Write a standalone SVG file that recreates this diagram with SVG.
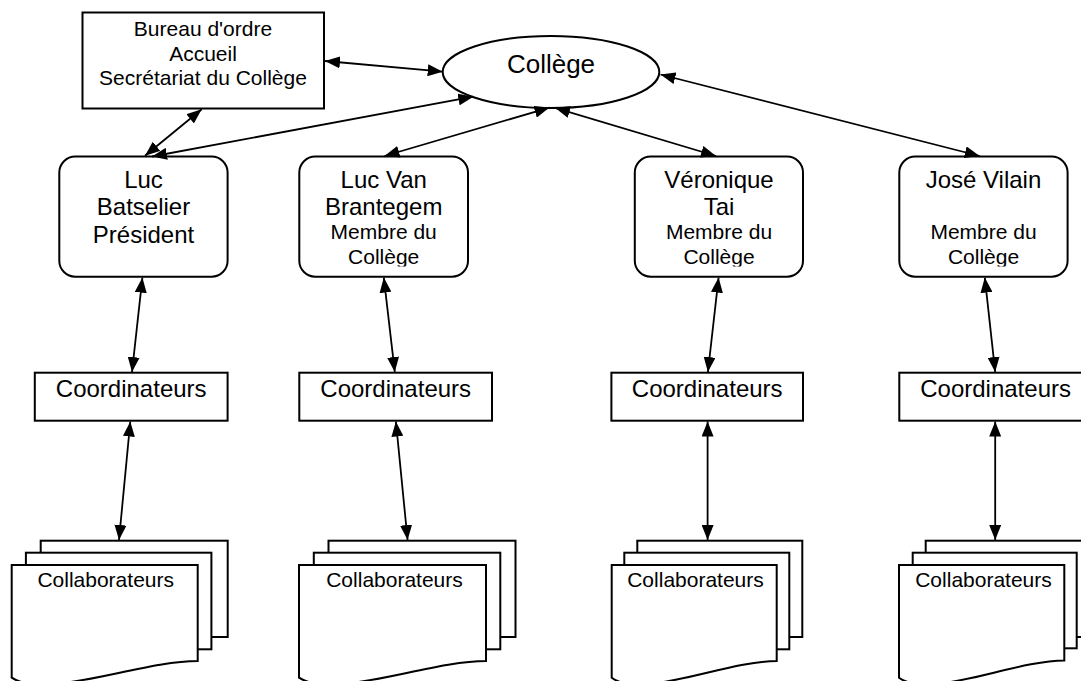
<svg xmlns="http://www.w3.org/2000/svg" width="1081" height="681" viewBox="0 0 1081 681">
<style>
.box{fill:#fff;stroke:#000;stroke-width:2}
.conn{stroke:#000;stroke-width:1.8;fill:none;marker-start:url(#ah);marker-end:url(#ah)}
text{font-family:"Liberation Sans",Arial,sans-serif;fill:#000;text-anchor:middle}
.t26{font-size:26px}.t24{font-size:24px}.t21{font-size:21px}
</style>
<defs>
<marker id="ah" viewBox="0 0 15 12" refX="15" refY="6" markerWidth="15" markerHeight="12" markerUnits="userSpaceOnUse" orient="auto-start-reverse">
<path d="M0,0 L15,6 L0,12 Z" fill="#000"/>
</marker>
<clipPath id="clipTxt"><rect x="0" y="150" width="1081" height="116.5"/></clipPath>
</defs>
<rect width="1081" height="681" fill="#fff"/>

<g id="bureau">
<rect class="box" x="82.5" y="12.5" width="241.5" height="96"/>
<text class="t21" x="203" y="36">Bureau d'ordre</text>
<text class="t21" x="203" y="60.5">Accueil</text>
<text class="t21" x="203" y="85">Secrétariat du Collège</text>
</g>

<g id="college">
<ellipse class="box" cx="551" cy="72" rx="108.3" ry="36"/>
<text class="t26" x="551" y="73.3">Collège</text>
</g>

<g id="batselier">
<rect class="box" x="59.3" y="156.5" width="168.3" height="120.2" rx="16"/>
<text class="t24" x="143.5" y="188">Luc</text>
<text class="t24" x="143.5" y="215">Batselier</text>
<text class="t24" x="143.5" y="242.7">Président</text>
</g>

<g id="vanbrantegem">
<rect class="box" x="299.3" y="156.5" width="168.7" height="120.2" rx="16"/>
<g clip-path="url(#clipTxt)">
<text class="t24" x="383.7" y="188">Luc Van</text>
<text class="t24" x="383.7" y="215">Brantegem</text>
<text class="t21" x="383.7" y="239.3">Membre du</text>
<text class="t21" x="383.7" y="264.3">Collège</text>
</g>
</g>

<g id="tai">
<rect class="box" x="634.8" y="156.5" width="168.2" height="120.2" rx="16"/>
<g clip-path="url(#clipTxt)">
<text class="t24" x="719" y="188">Véronique</text>
<text class="t24" x="719" y="215">Tai</text>
<text class="t21" x="719" y="239.3">Membre du</text>
<text class="t21" x="719" y="264.3">Collège</text>
</g>
</g>

<g id="vilain">
<rect class="box" x="899.3" y="156.5" width="168.3" height="120.2" rx="16"/>
<g clip-path="url(#clipTxt)">
<text class="t24" x="983.5" y="188">José Vilain</text>
<text class="t21" x="983.5" y="239.3">Membre du</text>
<text class="t21" x="983.5" y="264.3">Collège</text>
</g>
</g>

<g id="coord1">
<rect class="box" x="34.8" y="372.7" width="192.8" height="48"/>
<text class="t24" x="131.2" y="396.7">Coordinateurs</text>
</g>
<g id="coord2">
<rect class="box" x="299.3" y="372.7" width="192.7" height="48"/>
<text class="t24" x="395.7" y="396.7">Coordinateurs</text>
</g>
<g id="coord3">
<rect class="box" x="611.4" y="372.7" width="191.6" height="48"/>
<text class="t24" x="707.2" y="396.7">Coordinateurs</text>
</g>
<g id="coord4">
<rect class="box" x="899.3" y="372.7" width="192.7" height="48"/>
<text class="t24" x="995.6" y="396.7">Coordinateurs</text>
</g>

<g id="collab1">
<rect class="box" x="40.7" y="540.7" width="187" height="96.3"/>
<rect class="box" x="25.9" y="552.7" width="185.5" height="96.6"/>
<path class="box" d="M11.7,565 H197.7 V661 C140,661 45,700 11.7,677.7 Z"/>
<text class="t21" x="105.7" y="587">Collaborateurs</text>
</g>
<g id="collab2">
<rect class="box" x="328.5" y="540.7" width="187" height="96.3"/>
<rect class="box" x="313.8" y="552.7" width="186.5" height="96.6"/>
<path class="box" d="M299,565 H486 V661 C428,661 333,700 299,677.7 Z"/>
<text class="t21" x="394.5" y="587">Collaborateurs</text>
</g>
<g id="collab3">
<rect class="box" x="637.3" y="540.7" width="165" height="96.3"/>
<rect class="box" x="624.3" y="552.7" width="165" height="96.6"/>
<path class="box" d="M611.7,565 H776.7 V661 C725,661 641,700 611.7,677.7 Z"/>
<text class="t21" x="695.5" y="587">Collaborateurs</text>
</g>
<g id="collab4">
<rect class="box" x="925.7" y="540.7" width="165" height="96.3"/>
<rect class="box" x="912.7" y="552.7" width="164" height="95.6"/>
<path class="box" d="M899,565 H1064.3 V660.5 C1013,660.5 929,700 899,677.7 Z"/>
<text class="t21" x="983.5" y="587">Collaborateurs</text>
</g>

<g id="connectors">
<line class="conn" x1="325" y1="61" x2="442.7" y2="71.7"/>
<line class="conn" x1="201.7" y1="109.3" x2="145" y2="155.8"/>
<line class="conn" x1="152" y1="156.5" x2="473.3" y2="96.7"/>
<line class="conn" x1="384.5" y1="156" x2="549.5" y2="107.6"/>
<line class="conn" x1="716" y1="156" x2="555" y2="107.8"/>
<line class="conn" x1="979.7" y1="156" x2="660.5" y2="74.5"/>
<line class="conn" x1="142.4" y1="277.6" x2="132" y2="372"/>
<line class="conn" x1="383.8" y1="277.6" x2="394.8" y2="372"/>
<line class="conn" x1="718.6" y1="277.6" x2="707.9" y2="372"/>
<line class="conn" x1="984.8" y1="277.6" x2="995.2" y2="372"/>
<line class="conn" x1="130.3" y1="421.5" x2="119" y2="540"/>
<line class="conn" x1="395.9" y1="421.5" x2="407.6" y2="540"/>
<line class="conn" x1="707.6" y1="421.5" x2="707.6" y2="540"/>
<line class="conn" x1="995.2" y1="421.5" x2="995.2" y2="540"/>
</g>
</svg>
